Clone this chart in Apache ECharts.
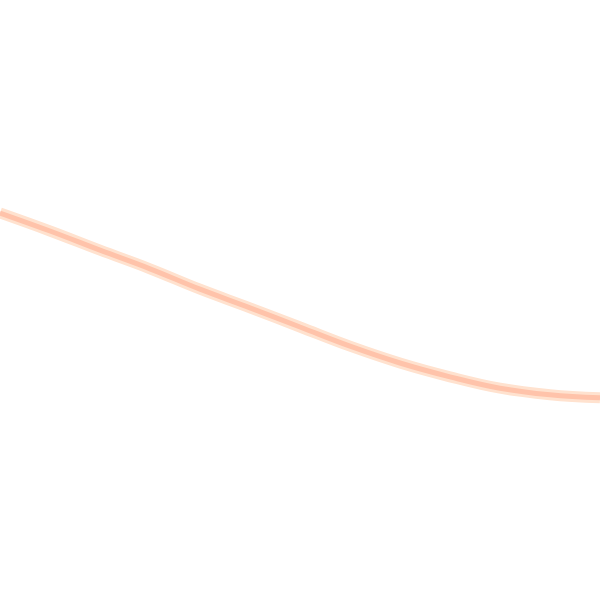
<!DOCTYPE html>
<html><head><meta charset="utf-8">
<script src="https://cdn.jsdelivr.net/npm/echarts@6/dist/echarts.min.js"></script>
<style>html,body{margin:0;padding:0;background:#fff}#c{width:600px;height:600px}</style>
</head><body><div id="c"></div>
<script>
var xValues = [0, 1, 2, 3, 4, 5, 6, 7, 8, 9, 10, 11, 12];
var yValues = [64.5, 61.5, 58.3, 55.2, 51.8, 48.7, 45.5, 42.3, 39.5, 37.2, 35.3, 34.2, 33.7];
var pts = xValues.map(function (x, i) { return [x, yValues[i]]; });
var chart = echarts.init(document.getElementById('c'));
chart.setOption({
  animation: false,
  grid: {left: 0, right: 0, top: 0, bottom: 0},
  xAxis: {type: 'value', min: 0, max: 12, show: false},
  yAxis: {type: 'value', min: 0, max: 100, show: false},
  series: [
    {type: 'line', data: pts, smooth: 0.4, symbol: 'none',
     lineStyle: {color: '#ffe2cf', width: 11}},
    {type: 'line', data: pts, smooth: 0.4, symbol: 'none',
     lineStyle: {color: '#ffc3aa', width: 5}}
  ]
});
</script></body></html>
